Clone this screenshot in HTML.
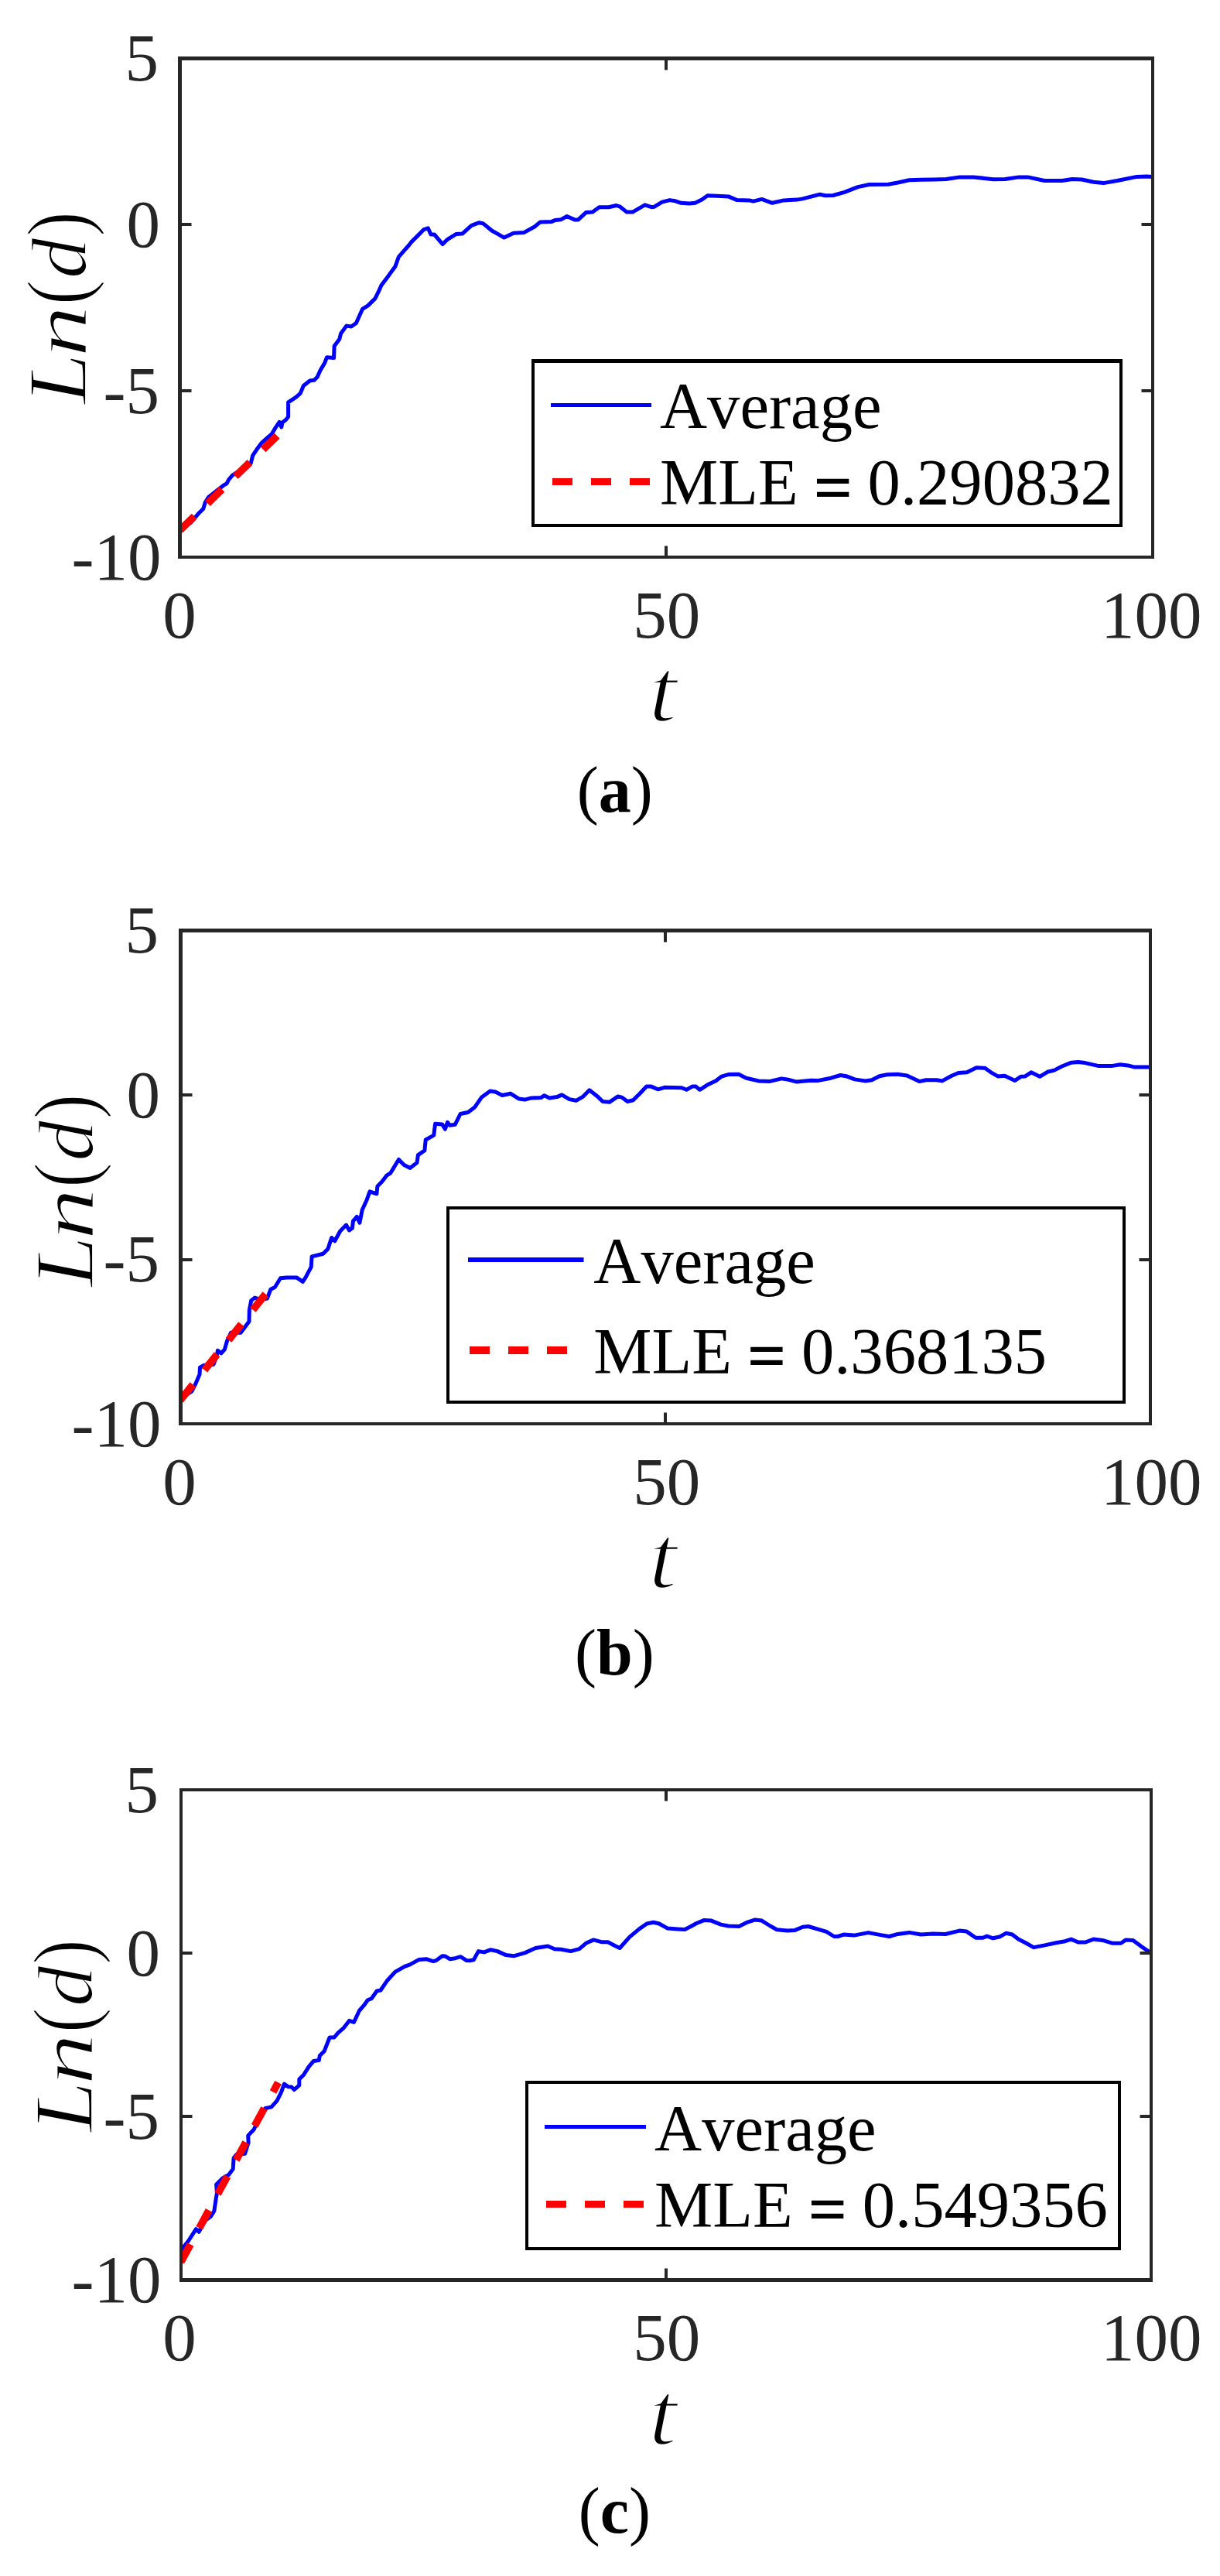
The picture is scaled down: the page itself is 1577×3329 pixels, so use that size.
<!DOCTYPE html>
<html lang="en"><head><meta charset="utf-8"><title>Ln(d) vs t</title>
<style>html,body{margin:0;padding:0;background:#fff}svg{display:block}</style></head>
<body>
<svg width="1577" height="3329" viewBox="0 0 1577 3329">
<rect width="1577" height="3329" fill="#fff"/>
<g id="panel-a">
<clipPath id="clip-a"><rect x="232.5" y="75.5" width="1257.5" height="644.5"/></clipPath>
<g clip-path="url(#clip-a)">
<polyline points="232.5,683.8 246.4,675.5 256.2,664.1 262.8,657.5 265.2,649.4 269.3,642.8 277.5,636.2 289,627.2 293.1,624.8 295.6,619.8 300.5,614.1 306,610.5 316,607 322,601.5 324.3,598.5 326.7,588.7 331.6,581.3 338.2,572.3 344.8,566.5 351.3,560.8 356.2,552.6 361.1,545.3 363.8,552 365,546 369.3,542.8 372.6,538.7 372.6,519.8 382.5,513.3 388.2,508.4 392.3,498.5 400.5,492 406.2,491.2 410.3,487.1 413.8,479 419.8,468.9 422.5,461.7 431.6,462.6 432.1,447.2 438.8,438.2 440.6,431 447.8,421.1 454.1,422 460.4,417.5 468.5,399.4 475.7,394.9 484.8,385.9 489.3,376.9 492.9,368.8 501,358 508.2,348 510.9,344.4 515.4,331.8 522.6,323.7 528.9,316.5 531.6,312.9 540.7,303.9 547.9,296.6 553.3,294.8 556.9,303 561.4,303 572.2,315.6 578.5,309.3 589.4,302.6 597.5,302.1 609.5,291.3 619.5,287.7 624.6,288.9 635.7,298 644.3,302.9 651.6,307.1 663.9,301.2 677.5,300.4 691,293 698.4,286.9 713.1,286.4 718,284.4 725.4,283.7 732.8,279.5 742.6,283.9 747.5,283.9 757.4,274.6 766,274.1 774.6,267.7 786.9,267.7 796.7,265.5 801.6,267.2 810.2,274.1 817.6,274.1 833.6,264.8 842.2,267.7 845.9,267.2 855.7,261.1 865.6,258.6 873,259.8 880.3,262.3 891,262.9 898.6,262.3 907.2,258.1 914.6,252.7 926.9,253.2 941.6,253.9 952.7,258.6 968.7,258.9 973.6,260.1 984.7,257.4 998.2,262.3 1013,258.9 1030.2,258.1 1037.5,256.9 1059.7,251.2 1067,252.7 1076.9,252.5 1091.6,248.3 1108.9,241.6 1123.6,238.5 1148.2,238.2 1160.5,236 1175.2,232.8 1190,232.3 1207.8,232 1223,231.5 1240.8,228.9 1258.6,228.9 1284,231.7 1299.3,231.5 1317.1,228.9 1328.5,228.9 1350.1,233.5 1373,233.5 1385.7,231.5 1398.4,232 1413.6,235.3 1426.3,236.6 1444.1,233.5 1469.5,228.4 1482.2,227.9 1490,228.5" fill="none" stroke="#0000ff" stroke-width="5" stroke-linejoin="round" stroke-linecap="butt"/>
<line x1="232.5" y1="685.3" x2="358.2" y2="563.3" stroke="#ff0000" stroke-width="9.6" stroke-dasharray="26 24"/>
</g>
<path d="M230 73H1492V722H230ZM235 78V718H1488V78Z" fill="#262626" fill-rule="evenodd"/>
<path d="M861 718v-12.5M861 78v12.5M235 290h12.5M1488 290h-12.5M235 505h12.5M1488 505h-12.5" stroke="#262626" stroke-width="4" fill="none"/>
<g font-family="'Liberation Serif','DejaVu Serif',serif" font-size="87" fill="#262626">
<text x="205" y="104.4" text-anchor="end">5</text>
<text x="207" y="319.2" text-anchor="end">0</text>
<text x="206" y="534.1" text-anchor="end">-5</text>
<text x="208.5" y="748.9" text-anchor="end">-10</text>
<text x="232.1" y="823.5" text-anchor="middle">0</text>
<text x="861.7" y="823.5" text-anchor="middle">50</text>
<text x="1488.3" y="823.5" text-anchor="middle">100</text>
</g>
<g transform="translate(110.2 523.1) rotate(-90)" font-family="'Liberation Serif','DejaVu Serif',serif" fill="#000">
<text transform="translate(0.52 0.90) scale(1.1862 1.0702)" font-size="100" font-style="italic" stroke="#fff" stroke-width="1.7">L</text>
<text transform="translate(61.26 0.90) scale(1.3436 0.9894)" font-size="100" font-style="italic" stroke="#fff" stroke-width="1.7">n</text>
<text transform="translate(128.79 1.85) scale(0.9805 1.1246)" font-size="100" stroke="#fff" stroke-width="1.7">(</text>
<text transform="translate(163.13 0.68) scale(1.0551 1.0199)" font-size="100" font-style="italic" stroke="#fff" stroke-width="1.7">d</text>
<text transform="translate(217.36 1.85) scale(0.9805 1.1246)" font-size="100" stroke="#fff" stroke-width="1.7">)</text>
</g>
<g transform="translate(845.4 931.4)" font-family="'Liberation Serif','DejaVu Serif',serif" fill="#000"><text transform="translate(-7.12 0.73) scale(1.3228 1.1658)" font-size="100" font-style="italic" stroke="#fff" stroke-width="2.2">t</text></g>
<path d="M687 464H1451V681H687Z" fill="#fff"/>
<path d="M687 464H1451V681H687ZM691 469V677H1447V469Z" fill="#000" fill-rule="evenodd"/>
<line x1="712" y1="523.5" x2="842" y2="523.5" stroke="#0000ff" stroke-width="5"/>
<line x1="714" y1="622.5" x2="842" y2="622.5" stroke="#ff0000" stroke-width="9" stroke-dasharray="26 24"/>
<g font-family="'Liberation Serif','DejaVu Serif',serif" font-size="84.6" fill="#000" style="font-kerning:none">
<text x="853" y="553">Average</text>
<text x="853" y="652" xml:space="preserve">MLE <tspan dy="6.5" stroke="#000" stroke-width="2">=</tspan><tspan dy="-6.5"> 0.290832</tspan></text>
</g>
<text x="794.7" y="1049" font-family="'Liberation Serif','DejaVu Serif',serif" font-size="84" text-anchor="middle" fill="#000">(<tspan font-weight="bold">a</tspan>)</text>
</g>
<g id="panel-b">
<clipPath id="clip-b"><rect x="233.5" y="1202.5" width="1253.5" height="637.5"/></clipPath>
<g clip-path="url(#clip-b)">
<polyline points="233.2,1807.8 248,1797.9 252.5,1788.9 258,1776.2 258.5,1767.2 263.4,1764.5 276,1763.3 280.1,1752.8 281.4,1745.2 285.9,1748.8 290.4,1743.8 293.5,1733 298.5,1722.2 311.2,1722.2 316.6,1714.9 322,1707.7 322.3,1693.3 324.7,1680.7 329.2,1677.1 337,1679.5 345.4,1678 349.9,1666.2 355.3,1663.5 362.6,1651.8 370.7,1650.9 383.3,1650.9 391.4,1656.3 395,1650.9 402.2,1637.4 403.1,1623.9 417.6,1620.3 423.9,1613.9 428.6,1599.5 432.8,1603.8 439.7,1591 447.5,1583.1 451.5,1590 455.4,1587.1 456.4,1578.2 461.3,1572.3 464.9,1580.2 468.2,1563.5 474.1,1550.7 478,1539.9 486.9,1542.8 487.9,1533 493.8,1527.1 499.7,1519.2 504.6,1516.2 515.4,1498.5 522.3,1505.4 530.2,1509.4 539,1502.5 540.4,1492.6 548.9,1486.7 550.2,1473 560.7,1467.1 562.6,1452.3 571.5,1452.9 575.4,1459.2 578.4,1450.3 581.3,1454.3 588.2,1453.3 595.1,1439.5 604.9,1437.5 613.8,1430.7 622.6,1417.9 633.5,1410 640.3,1411 649.2,1415.5 659.8,1413.2 670.9,1420.1 678.3,1421.1 686.9,1418.9 699.2,1418.6 703.6,1415.7 710.2,1418.9 720.1,1417.6 726.2,1414.9 736.1,1420.6 744.7,1422.3 753.3,1417.4 761.9,1408.8 771.7,1416.4 779.1,1423.5 787.7,1424.3 798.8,1416.9 803.7,1418.1 811.1,1423.5 818.4,1421.8 827,1413.2 835.7,1404.1 841.8,1404.1 850.4,1407.8 859,1405.3 881.1,1405.8 887.3,1408.3 894.7,1404.1 899.6,1404.1 904.5,1408.3 914.3,1402.1 925.4,1396.7 932.8,1391.1 941.4,1388.6 954.8,1388.3 964.6,1393.2 980.6,1396.9 995.3,1397.4 1010.1,1393.9 1018.7,1395.2 1029.8,1398.1 1048.2,1396.2 1058,1396.4 1074,1393.2 1086.3,1389.5 1093.7,1390.7 1104.8,1394.9 1118.3,1396.9 1126.9,1395.7 1136.7,1390.7 1146.6,1388.8 1160.1,1388.3 1172.4,1390 1188.4,1397.6 1197,1395.7 1210.5,1395.7 1217.9,1396.9 1230.2,1390.3 1238.9,1386.5 1249.9,1385.8 1262.1,1379.8 1273.2,1380.3 1280.9,1385.8 1289.8,1390.9 1298.6,1390.2 1311.9,1396.4 1319.6,1391.3 1325.2,1390.9 1332.9,1385.8 1344,1391.3 1353.9,1385.3 1362.8,1383.1 1372.7,1378 1384.9,1373.2 1393.8,1372.5 1402.6,1373.6 1420.3,1377.6 1438,1377.4 1448,1375.8 1458,1376.9 1466.8,1379.1 1487.5,1379.1" fill="none" stroke="#0000ff" stroke-width="5" stroke-linejoin="round" stroke-linecap="butt"/>
<line x1="233" y1="1809.6" x2="357.8" y2="1654.2" stroke="#ff0000" stroke-width="9.6" stroke-dasharray="26 24"/>
</g>
<path d="M231 1200H1489V1842H231ZM236 1205V1838H1485V1205Z" fill="#262626" fill-rule="evenodd"/>
<path d="M860 1838v-12.5M860 1205v12.5M236 1415h12.5M1485 1415h-12.5M236 1628h12.5M1485 1628h-12.5" stroke="#262626" stroke-width="4" fill="none"/>
<g font-family="'Liberation Serif','DejaVu Serif',serif" font-size="87" fill="#262626">
<text x="205" y="1231.4" text-anchor="end">5</text>
<text x="207" y="1443.9" text-anchor="end">0</text>
<text x="206" y="1656.4" text-anchor="end">-5</text>
<text x="208.5" y="1868.9" text-anchor="end">-10</text>
<text x="232.1" y="1943.5" text-anchor="middle">0</text>
<text x="861.7" y="1943.5" text-anchor="middle">50</text>
<text x="1488.3" y="1943.5" text-anchor="middle">100</text>
</g>
<g transform="translate(119.5 1663.7) rotate(-90)" font-family="'Liberation Serif','DejaVu Serif',serif" fill="#000">
<text transform="translate(0.52 0.90) scale(1.1862 1.0702)" font-size="100" font-style="italic" stroke="#fff" stroke-width="1.7">L</text>
<text transform="translate(61.26 0.90) scale(1.3436 0.9894)" font-size="100" font-style="italic" stroke="#fff" stroke-width="1.7">n</text>
<text transform="translate(128.79 1.85) scale(0.9805 1.1246)" font-size="100" stroke="#fff" stroke-width="1.7">(</text>
<text transform="translate(163.13 0.68) scale(1.0551 1.0199)" font-size="100" font-style="italic" stroke="#fff" stroke-width="1.7">d</text>
<text transform="translate(217.36 1.85) scale(0.9805 1.1246)" font-size="100" stroke="#fff" stroke-width="1.7">)</text>
</g>
<g transform="translate(845.4 2051.4)" font-family="'Liberation Serif','DejaVu Serif',serif" fill="#000"><text transform="translate(-7.12 0.73) scale(1.3228 1.1658)" font-size="100" font-style="italic" stroke="#fff" stroke-width="2.2">t</text></g>
<path d="M577 1559H1455V1814H577Z" fill="#fff"/>
<path d="M577 1559H1455V1814H577ZM581 1563V1810H1451V1563Z" fill="#000" fill-rule="evenodd"/>
<line x1="605" y1="1628" x2="754.5" y2="1628" stroke="#0000ff" stroke-width="6"/>
<line x1="607" y1="1745" x2="754.5" y2="1745" stroke="#ff0000" stroke-width="10" stroke-dasharray="26 24"/>
<g font-family="'Liberation Serif','DejaVu Serif',serif" font-size="84.6" fill="#000" style="font-kerning:none">
<text x="767.3" y="1658">Average</text>
<text x="767.3" y="1774.8" xml:space="preserve">MLE <tspan dy="6.5" stroke="#000" stroke-width="2">=</tspan><tspan dy="-6.5"> 0.368135</tspan></text>
</g>
<text x="794.3" y="2164" font-family="'Liberation Serif','DejaVu Serif',serif" font-size="84" text-anchor="middle" fill="#000">(<tspan font-weight="bold">b</tspan>)</text>
</g>
<g id="panel-c">
<clipPath id="clip-c"><rect x="234" y="2313" width="1254" height="633.5"/></clipPath>
<g clip-path="url(#clip-c)">
<polyline points="234,2922.2 237.2,2904.1 243.5,2896 253.4,2880.7 257.1,2884.3 260.5,2878 266.1,2869 272.4,2864.5 276.9,2857.2 278.7,2844.6 280.5,2833.8 279.6,2823 287.7,2814.9 295.8,2810.3 301.2,2803.1 302.1,2788.7 305.7,2784.2 316.6,2783.3 321.1,2768.9 320.7,2759.9 328.3,2751.7 331.9,2743.6 342.7,2724.7 350.8,2722.9 358,2714.8 363.5,2703.9 367.4,2693.1 372.5,2696.7 377,2697.1 380.2,2700.5 386.8,2694.9 386.8,2687 392.6,2681.2 399.5,2670.3 405.4,2663.5 412.3,2662.5 413.3,2656.6 419.2,2650.7 426.1,2633 432,2633 436.9,2627.1 443.8,2621.2 451.6,2611.3 457.5,2613.3 464.4,2598.5 470.3,2591.7 475.3,2584.8 480.2,2582.8 487.1,2573 492,2572 500.8,2559.2 510.7,2548.4 523.5,2541.1 529.4,2539.1 541.2,2532.6 551,2531.7 559.9,2534.6 563.8,2533.6 571.7,2527.7 575.6,2528.1 581.5,2531.7 588.4,2530.7 595.3,2528.7 603.1,2533.6 607,2533.7 612.3,2532.7 618.4,2521.6 625.8,2522.9 634.4,2519.7 643,2521.6 654.1,2526.6 663.9,2527.8 678.7,2523.6 692.2,2517.5 708.2,2515 716.8,2518.7 725.4,2519.2 737.7,2521.6 748.8,2518.7 757.4,2511.3 767.2,2506.9 778.3,2509.8 785.7,2509.8 794.3,2514.3 801.1,2517.5 813.9,2503.2 826.2,2492.9 836.1,2486 844.7,2484.3 852,2486 863.1,2492.1 875.4,2492.9 885.2,2493.4 892.6,2489.7 899.8,2485.8 909.7,2481.6 919.5,2482.1 931.8,2487.1 941.6,2489 955.2,2489.5 966.2,2484.1 976.1,2480.9 984.7,2482.1 995.7,2489 1004.3,2493.7 1017.9,2494.9 1027.7,2494.4 1037.5,2490.3 1044.9,2489.5 1057.2,2493.2 1068.3,2496.4 1078.1,2502.5 1083,2502.5 1090.4,2500.1 1103.9,2501.1 1122.4,2497.6 1138.4,2500.6 1149.4,2502.5 1160.5,2499.4 1175.2,2497.4 1190.5,2500 1206.2,2499 1222,2499.5 1240.3,2495.1 1249.5,2496.1 1261.3,2504.2 1270.5,2504.2 1275.7,2502.1 1283.6,2504.8 1292.8,2502.7 1300.7,2498.2 1308.5,2500 1316.4,2506.1 1325.6,2510.8 1336.1,2516.6 1350.5,2513.9 1366.2,2510.5 1376.7,2508.7 1384.6,2506.1 1393.8,2510 1403,2510 1413.4,2506.1 1425.2,2507.4 1438.4,2511.3 1448.9,2511.3 1455.4,2506.9 1464.6,2507.4 1475.1,2515.3 1488,2523.9" fill="none" stroke="#0000ff" stroke-width="5" stroke-linejoin="round" stroke-linecap="butt"/>
<line x1="233.8" y1="2923.2" x2="359.6" y2="2691.2" stroke="#ff0000" stroke-width="9.6" stroke-dasharray="26 24"/>
</g>
<path d="M232 2311H1490V2949H232ZM236 2315V2944H1486V2315Z" fill="#262626" fill-rule="evenodd"/>
<path d="M861 2944v-12.5M861 2315v12.5M236 2524h12.5M1486 2524h-12.5M236 2735h12.5M1486 2735h-12.5" stroke="#262626" stroke-width="4" fill="none"/>
<g font-family="'Liberation Serif','DejaVu Serif',serif" font-size="87" fill="#262626">
<text x="205" y="2341.9" text-anchor="end">5</text>
<text x="207" y="2553.1" text-anchor="end">0</text>
<text x="206" y="2764.2" text-anchor="end">-5</text>
<text x="208.5" y="2975.4" text-anchor="end">-10</text>
<text x="232.1" y="3050" text-anchor="middle">0</text>
<text x="861.7" y="3050" text-anchor="middle">50</text>
<text x="1488.3" y="3050" text-anchor="middle">100</text>
</g>
<g transform="translate(118.3 2756.1) rotate(-90)" font-family="'Liberation Serif','DejaVu Serif',serif" fill="#000">
<text transform="translate(0.52 0.90) scale(1.1862 1.0702)" font-size="100" font-style="italic" stroke="#fff" stroke-width="1.7">L</text>
<text transform="translate(61.26 0.90) scale(1.3436 0.9894)" font-size="100" font-style="italic" stroke="#fff" stroke-width="1.7">n</text>
<text transform="translate(128.79 1.85) scale(0.9805 1.1246)" font-size="100" stroke="#fff" stroke-width="1.7">(</text>
<text transform="translate(163.13 0.68) scale(1.0551 1.0199)" font-size="100" font-style="italic" stroke="#fff" stroke-width="1.7">d</text>
<text transform="translate(217.36 1.85) scale(0.9805 1.1246)" font-size="100" stroke="#fff" stroke-width="1.7">)</text>
</g>
<g transform="translate(845.4 3157.9)" font-family="'Liberation Serif','DejaVu Serif',serif" fill="#000"><text transform="translate(-7.12 0.73) scale(1.3228 1.1658)" font-size="100" font-style="italic" stroke="#fff" stroke-width="2.2">t</text></g>
<path d="M679 2689H1449V2908H679Z" fill="#fff"/>
<path d="M679 2689H1449V2908H679ZM683 2693V2904H1445V2693Z" fill="#000" fill-rule="evenodd"/>
<line x1="704" y1="2748.5" x2="835" y2="2748.5" stroke="#0000ff" stroke-width="5"/>
<line x1="706" y1="2848.5" x2="835" y2="2848.5" stroke="#ff0000" stroke-width="9" stroke-dasharray="26 24"/>
<g font-family="'Liberation Serif','DejaVu Serif',serif" font-size="84.6" fill="#000" style="font-kerning:none">
<text x="846.1" y="2779.3">Average</text>
<text x="846.1" y="2877.6" xml:space="preserve">MLE <tspan dy="6.5" stroke="#000" stroke-width="2">=</tspan><tspan dy="-6.5"> 0.549356</tspan></text>
</g>
<text x="794.4" y="3273" font-family="'Liberation Serif','DejaVu Serif',serif" font-size="84" text-anchor="middle" fill="#000">(<tspan font-weight="bold">c</tspan>)</text>
</g>
</svg>
</body></html>
